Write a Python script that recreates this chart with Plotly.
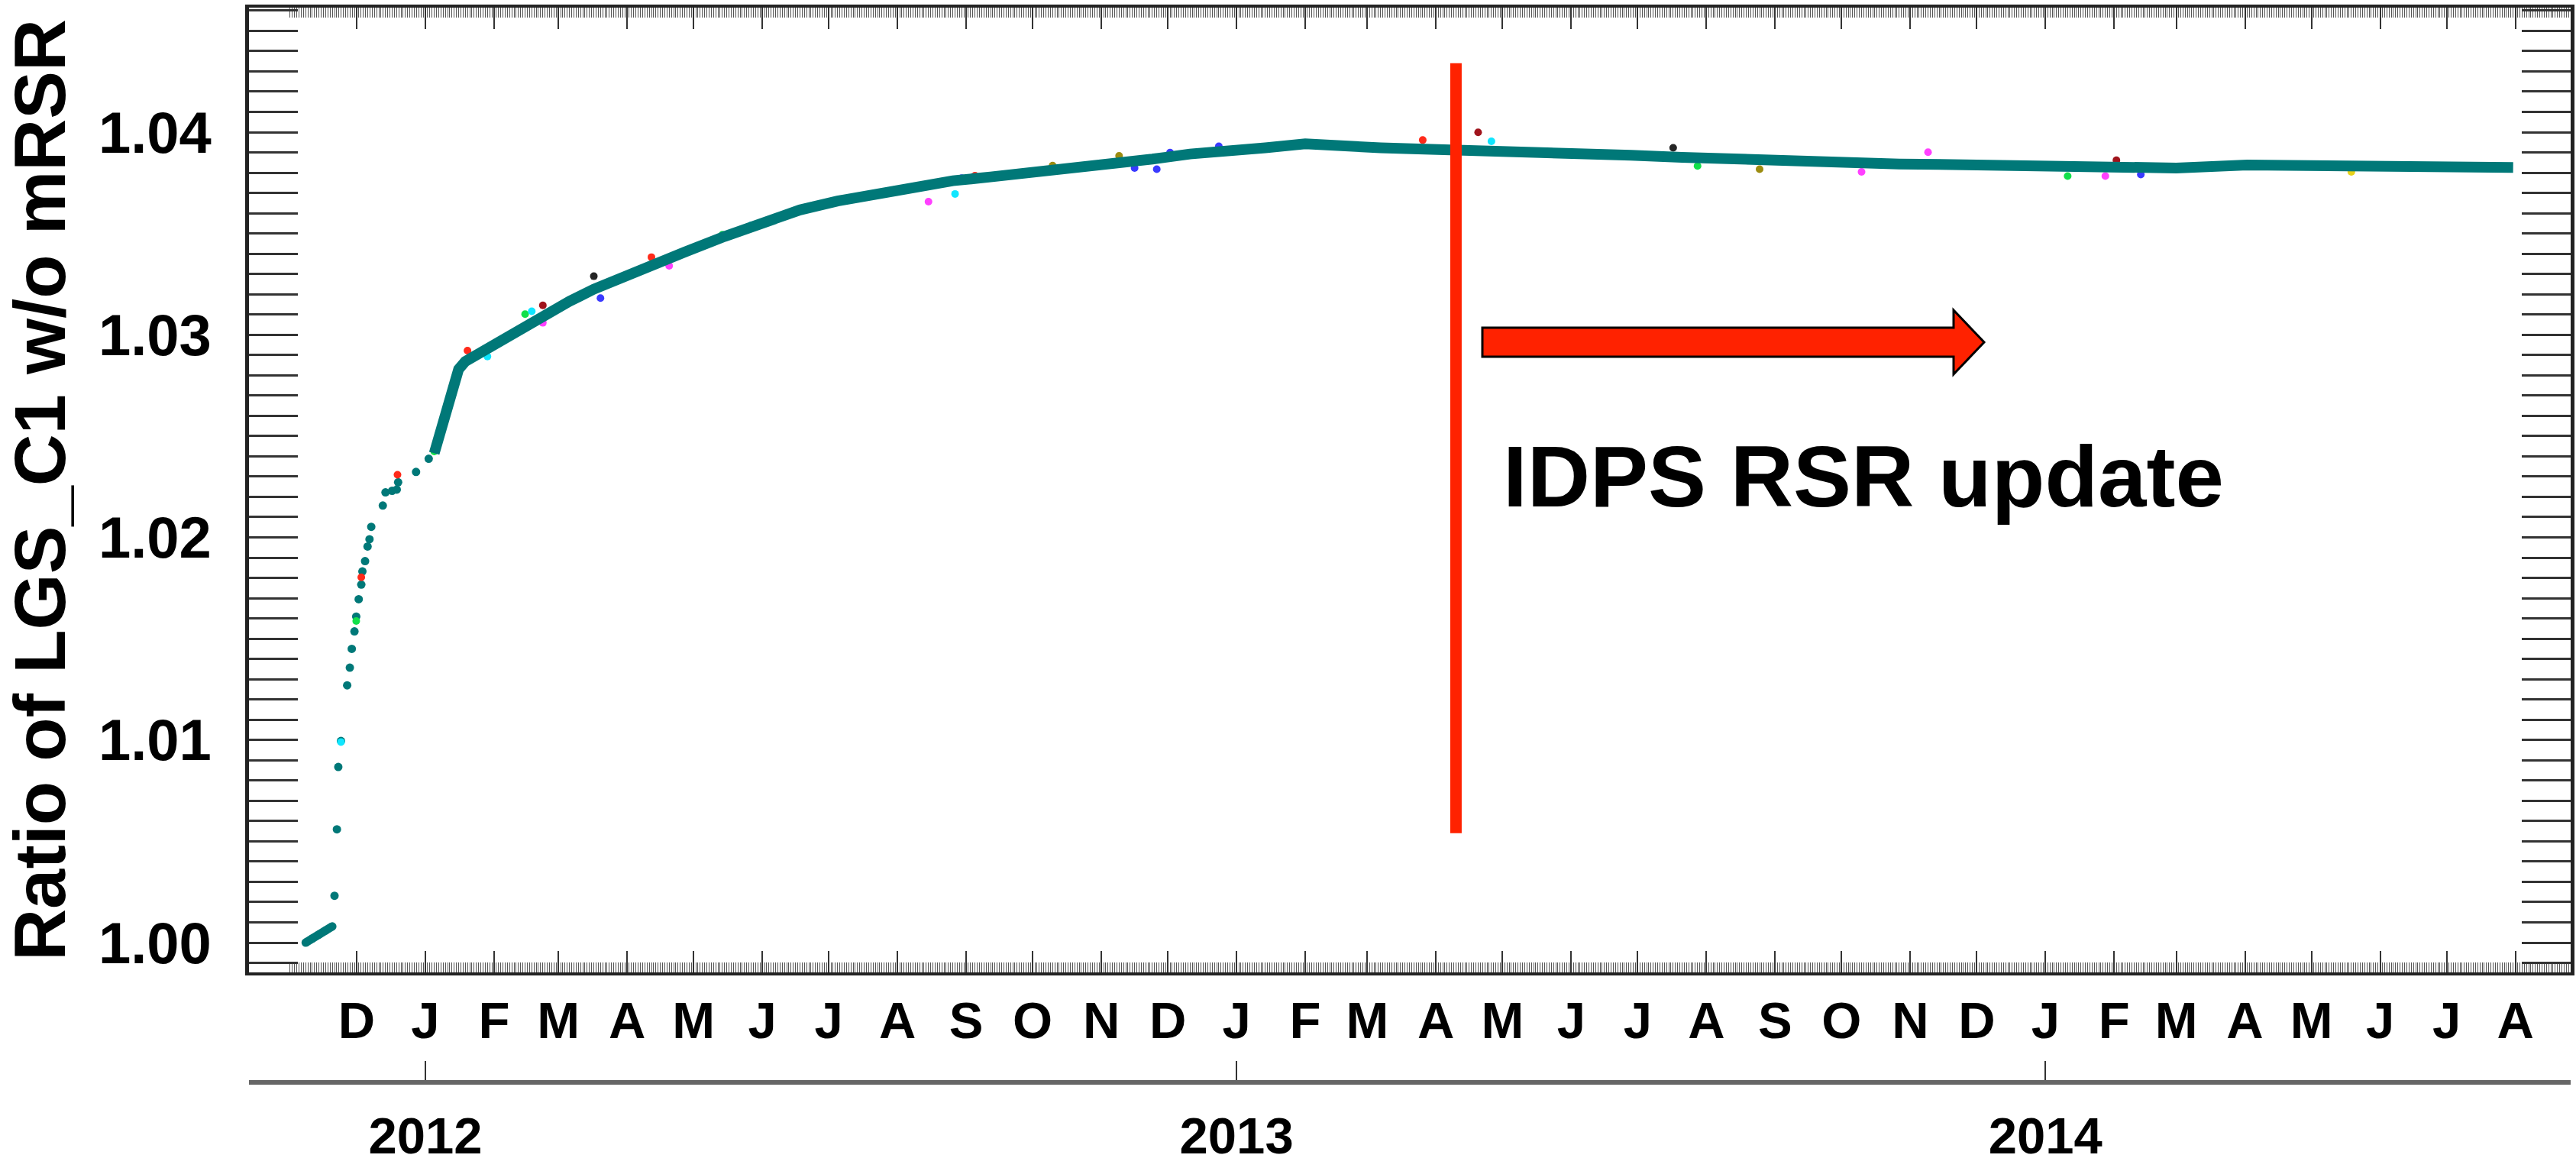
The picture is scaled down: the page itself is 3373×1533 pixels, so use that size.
import pandas as pd
import plotly.graph_objects as go

# ------------------------------------------------------------------ data
# short dense segment at the very start (Nov 2011)
cluster_dates = ["2011-11-08", "2011-11-11", "2011-11-14", "2011-11-17", "2011-11-20"]
cluster_values = [1.0000, 1.0002, 1.0004, 1.0006, 1.0008]

# individual early points (steep rise, Nov 2011 - Jan 2012)
early_dates = [
    "2011-11-21 00:00", "2011-11-22 02:00", "2011-11-22 17:00", "2011-11-23 22:00",
    "2011-11-26 17:00", "2011-11-27 22:00", "2011-11-28 19:00", "2011-11-30 00:00",
    "2011-11-30 19:00", "2011-12-01 22:00", "2011-12-03 02:00", "2011-12-03 14:00",
    "2011-12-04 19:00", "2011-12-05 22:00", "2011-12-06 19:00", "2011-12-07 14:00",
    "2011-12-12 19:00", "2011-12-14 00:00", "2011-12-17 00:00", "2011-12-19 02:00",
    "2011-12-19 17:00", "2011-12-27 19:00", "2012-01-02 12:00",
]
early_values = [
    1.00231, 1.00559, 1.00867, 1.00995,
    1.01270, 1.01357, 1.01450, 1.01536,
    1.01609, 1.01695, 1.01767, 1.01832,
    1.01883, 1.01955, 1.01991, 1.02052,
    1.02157, 1.02222, 1.02230, 1.02236,
    1.02272, 1.02323, 1.02388,
]

# main (continuous) record
line_dates = [
    "2012-01-05", "2012-01-08", "2012-01-13", "2012-01-16", "2012-01-19", "2012-01-31",
    "2012-02-12", "2012-02-23", "2012-03-06", "2012-03-17", "2012-03-29", "2012-04-10",
    "2012-04-27", "2012-05-15", "2012-06-01", "2012-06-18", "2012-07-05", "2012-07-23",
    "2012-08-09", "2012-08-26", "2012-09-12", "2012-09-30", "2012-10-20", "2012-11-06",
    "2012-11-24", "2012-12-11", "2012-12-28", "2013-01-14", "2013-02-01", "2013-02-18",
    "2013-03-07", "2013-03-24", "2013-04-20", "2013-05-13", "2013-06-05", "2013-06-28",
    "2013-07-21", "2013-08-13", "2013-09-05", "2013-09-23", "2013-10-27", "2013-12-01",
    "2014-01-04", "2014-02-08", "2014-03-01", "2014-04-02", "2014-05-08", "2014-06-12",
    "2014-07-16", "2014-07-31",
]
line_values = [
    1.02415, 1.02530, 1.02710, 1.02830, 1.02868, 1.02945,
    1.03022, 1.03095, 1.03165, 1.03225, 1.03282, 1.03333,
    1.03408, 1.03485, 1.03555, 1.03616, 1.03660, 1.03697,
    1.03735, 1.03760, 1.03779, 1.03798, 1.03823, 1.03848,
    1.03867, 1.03892, 1.03904, 1.03923, 1.03942, 1.03939,
    1.03923, 1.03917, 1.03911, 1.03901, 1.03892, 1.03886,
    1.03876, 1.03867, 1.03861, 1.03855, 1.03843, 1.03838,
    1.03830, 1.03823, 1.03823, 1.03838, 1.03838, 1.03836,
    1.03833, 1.03826,
]

# scattered points of the other detectors
outlier_dates = [
    "2011-11-23 22:00", "2011-11-30 19:00", "2011-12-03 02:00", "2011-12-19 10:00",
    "2012-01-05", "2012-01-20", "2012-01-29", "2012-02-15", "2012-02-18", "2012-02-23",
    "2012-02-23", "2012-03-17", "2012-03-20", "2012-04-12", "2012-04-20", "2012-05-14",
    "2012-05-27", "2012-08-15", "2012-08-27", "2012-08-30", "2012-09-05", "2012-10-10",
    "2012-11-09", "2012-11-16", "2012-11-26", "2012-12-02", "2012-12-24", "2013-03-26",
    "2013-04-20", "2013-04-26", "2013-07-17", "2013-07-28", "2013-08-25", "2013-10-10",
    "2013-11-09", "2014-01-11", "2014-01-28", "2014-02-02", "2014-02-13", "2014-05-19",
]
outlier_values = [
    1.00990, 1.01587, 1.01803, 1.02309,
    1.02424, 1.02922, 1.02893, 1.03102, 1.03116, 1.03145,
    1.03059, 1.03289, 1.03181, 1.03383, 1.03340, 1.03494,
    1.03540, 1.03657, 1.03695, 1.03773, 1.03785, 1.03835,
    1.03883, 1.03823, 1.03817, 1.03899, 1.03930, 1.03961,
    1.03999, 1.03955, 1.03923, 1.03833, 1.03817, 1.03804,
    1.03901, 1.03783, 1.03783, 1.03861, 1.03791, 1.03804,
]
outlier_detector = [
    "D4", "D2", "D1", "D1",
    "D2", "D1", "D4", "D2", "D4", "D7",
    "D5", "D6", "D3", "D1", "D5", "D2",
    "D4", "D5", "D4", "D3", "D1", "D8",
    "D8", "D3", "D3", "D3", "D3", "D1",
    "D7", "D4", "D6", "D2", "D8", "D5",
    "D5", "D2", "D5", "D7", "D3", "D9",
]

month_tick_dates = [d.strftime("%Y-%m-%d") for d in pd.date_range("2011-12-01", "2014-08-01", freq="MS")]
month_tick_labels = ["D",
                     "J", "F", "M", "A", "M", "J", "J", "A", "S", "O", "N", "D",
                     "J", "F", "M", "A", "M", "J", "J", "A", "S", "O", "N", "D",
                     "J", "F", "M", "A", "M", "J", "J", "A"]
year_tick_dates = ["2012-01-01", "2013-01-01", "2014-01-01"]
year_tick_labels = ["2012", "2013", "2014"]

x_range = ["2011-10-13 09:40", "2014-08-25 22:50"]
y_range = [0.99853, 1.046145]

update_date = "2013-04-10"
update_line_values = [1.0054, 1.0434]
update_label = "IDPS RSR update"
y_title = "Ratio of LGS_C1 w/o mRSR"

# ------------------------------------------------------------------ style
FONT = "Liberation Sans, Arial, sans-serif"
TEAL = "#007878"
DET_COLORS = {"D1": "#ff2a1a", "D2": "#12e04a", "D3": "#3a3aff", "D4": "#10e6ff",
              "D5": "#ff40ff", "D6": "#252525", "D7": "#a0141c", "D8": "#9c8c10",
              "D9": "#e6d21a"}

W, H = 3373, 1533
ML, MR, MT, MB = 326, 7, 10, 70
PW, PH = W - ML - MR, H - MT - MB


def px_x(p):
    return (p - ML) / PW


def px_y(p):
    return (H - MB - p) / PH


fig = go.Figure()

fig.add_trace(go.Scatter(x=cluster_dates, y=cluster_values, mode="lines+markers",
                         line=dict(color=TEAL, width=11), marker=dict(color=TEAL, size=11),
                         hoverinfo="x+y"))
fig.add_trace(go.Scatter(x=early_dates, y=early_values, mode="markers",
                         marker=dict(color=TEAL, size=11), hoverinfo="x+y"))
fig.add_trace(go.Scatter(x=outlier_dates, y=outlier_values, mode="markers",
                         marker=dict(color=[DET_COLORS[d] for d in outlier_detector], size=10),
                         hoverinfo="x+y"))
fig.add_trace(go.Scatter(x=line_dates, y=line_values, mode="lines",
                         line=dict(color=TEAL, width=14),
                         hoverinfo="x+y"))
# carrier trace for the year axis
fig.add_trace(go.Scatter(x=year_tick_dates, y=[None] * len(year_tick_dates), xaxis="x2", yaxis="y",
                         mode="markers", hoverinfo="skip"))

daily = [d.strftime("%Y-%m-%d") for d in pd.date_range("2011-11-01", "2014-08-25", freq="D")]

axis_font = dict(family=FONT, size=67, color="black", weight="bold")

fig.update_layout(
    width=W, height=H,
    margin=dict(l=ML, r=MR, t=MT, b=MB, autoexpand=False),
    paper_bgcolor="white", plot_bgcolor="white",
    showlegend=False,
    xaxis=dict(
        type="date", range=x_range, anchor="y", automargin=False,
        tickmode="array", tickvals=month_tick_dates, ticktext=month_tick_labels,
        ticks="inside", ticklen=28, tickwidth=2, tickcolor="#333",
        showline=True, linewidth=4, linecolor="#222", mirror="allticks",
        showgrid=False, zeroline=False,
        tickfont=axis_font, ticklabelstandoff=2,
        minor=dict(tickmode="array", tickvals=daily, ticks="inside", ticklen=13,
                   tickwidth=1, tickcolor="#555", showgrid=False),
    ),
    xaxis2=dict(
        type="date", range=x_range, overlaying="x", anchor="free", position=px_y(1417),
        side="bottom", automargin=False,
        tickmode="array", tickvals=year_tick_dates, ticktext=year_tick_labels,
        ticks="inside", ticklen=25, tickwidth=2, tickcolor="#333",
        showline=True, linewidth=6, linecolor="#666",
        showgrid=False, zeroline=False,
        tickfont=axis_font, ticklabelstandoff=10,
    ),
    yaxis=dict(
        domain=[px_y(1273), 1], range=y_range, automargin=False,
        tickmode="linear", tick0=1.0, dtick=0.01, tickformat=".2f",
        ticks="inside", ticklen=64, tickwidth=2.5, tickcolor="#333",
        showline=True, linewidth=5, linecolor="#222", mirror="allticks",
        showgrid=False, zeroline=False,
        tickfont=dict(family=FONT, size=76, color="black", weight="bold"),
        ticklabelstandoff=29,
        minor=dict(tick0=1.0, dtick=0.001, ticks="inside", ticklen=30, tickwidth=2.5,
                   tickcolor="#333", showgrid=False),
        title=dict(text=y_title, font=dict(family=FONT, size=94, color="black", weight="bold"),
                   standoff=53),
    ),
)

# IDPS RSR update marker line
fig.add_shape(type="line", xref="x", yref="y", x0=update_date, x1=update_date,
              y0=update_line_values[0], y1=update_line_values[1],
              line=dict(color="#ff2200", width=15), layer="above")

# block arrow
sx0, sx1, tip = px_x(1941), px_x(2558), px_x(2598)
sy0, sy1 = px_y(429), px_y(467)
hy0, hy1, ym = px_y(406), px_y(490), px_y(448)
path = (f"M {sx0},{sy0} L {sx1},{sy0} L {sx1},{hy0} L {tip},{ym} L {sx1},{hy1} "
        f"L {sx1},{sy1} L {sx0},{sy1} Z")
fig.add_shape(type="path", xref="paper", yref="paper", path=path,
              fillcolor="#ff2200", line=dict(color="black", width=3), layer="above")

fig.add_annotation(xref="paper", yref="paper", x=px_x(1966), y=px_y(623),
                   xanchor="left", yanchor="middle", showarrow=False, text=update_label,
                   font=dict(family=FONT, size=114, color="black", weight="bold"))

fig.write_html("out.html",
               config={"displayModeBar": False},
               post_script="document.body.style.margin='0px';document.body.style.overflow='hidden';")
